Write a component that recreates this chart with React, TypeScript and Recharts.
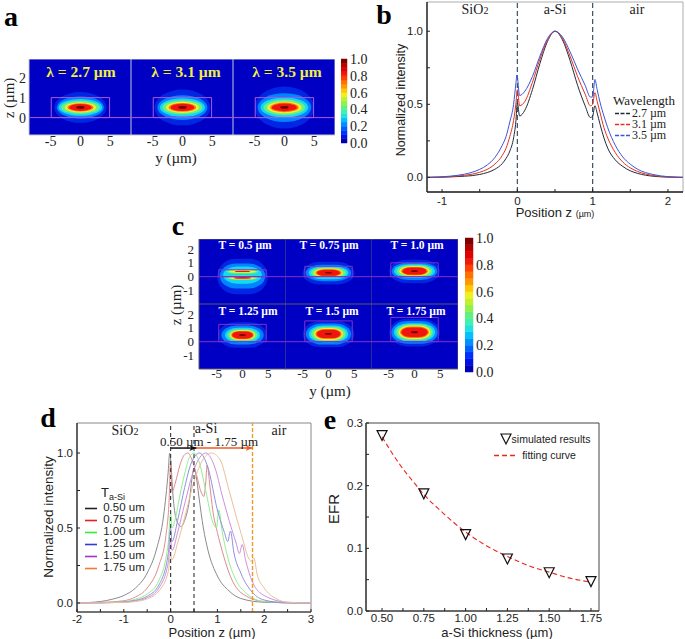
import type { ReactNode } from 'react';
import { ComposedChart, Line, ReferenceArea, ReferenceLine, Scatter, XAxis, YAxis } from 'recharts';

const SERIF = '"Liberation Serif", serif';
const SANS = '"Liberation Sans", sans-serif';

// heat map levels, outer glow to core
const levelColors = ['#0026e4', '#0084ff', '#18d8f0', '#68f080', '#f0f030', '#ff7a10', '#f01810', '#700000'];
const heatBackground = '#0000c4';

// contour = [level, z centre, half width in y, half height in z]
type Contour = number[];
const a27: Contour[] = [[0, 0.51, 4.4, 0.77], [1, 0.51, 3.95, 0.55], [2, 0.51, 3.67, 0.42], [3, 0.51, 3.25, 0.33], [4, 0.51, 2.63, 0.26], [5, 0.51, 2.2, 0.21], [6, 0.51, 1.9, 0.175], [7, 0.51, 0.7, 0.07]];
const a31: Contour[] = [[0, 0.5, 4.7, 0.9], [1, 0.5, 4.2, 0.62], [2, 0.51, 3.8, 0.46], [3, 0.51, 3.35, 0.36], [4, 0.51, 2.75, 0.28], [5, 0.51, 2.3, 0.22], [6, 0.51, 2, 0.18], [7, 0.51, 0.7, 0.07]];
const a35: Contour[] = [[0, 0.5, 5, 1.05], [1, 1.07, 3, 0.05], [1, 0.5, 4.5, 0.72], [2, 0.51, 4, 0.5], [3, 0.51, 3.5, 0.39], [4, 0.51, 2.9, 0.3], [5, 0.51, 2.4, 0.24], [6, 0.51, 2.1, 0.19], [7, 0.51, 0.7, 0.07]];

const t050: Contour[] = [[0, 0.02, 4.9, 1.28], [1, 0.05, 4.4, 0.9], [2, 0.12, 3.75, 0.62], [3, 0.37, 3.1, 0.16], [3, -0.08, 3.1, 0.16], [4, 0.38, 2.6, 0.1], [4, -0.09, 2.6, 0.1], [6, 0.38, 1.5, 0.05], [6, -0.09, 1.7, 0.06]];
const t075: Contour[] = [[0, 0.25, 5.05, 0.82], [1, 0.27, 4.4, 0.6], [2, 0.28, 3.85, 0.47], [3, 0.28, 3.4, 0.38], [4, 0.28, 2.85, 0.31], [5, 0.28, 2.55, 0.26], [6, 0.28, 2.25, 0.22], [7, 0.28, 0.7, 0.05]];
const t100: Contour[] = [[0, 0.38, 4.9, 0.85], [1, 0.4, 4.4, 0.63], [2, 0.4, 3.95, 0.5], [3, 0.4, 3.45, 0.42], [4, 0.4, 2.95, 0.35], [5, 0.4, 2.6, 0.3], [6, 0.4, 2.3, 0.26], [7, 0.4, 0.7, 0.06]];
const t125: Contour[] = [[0, 0.48, 4.7, 0.92], [1, 0.48, 4.1, 0.68], [2, 0.48, 3.4, 0.52], [3, 0.48, 2.95, 0.42], [4, 0.48, 2.45, 0.34], [5, 0.48, 2.2, 0.3], [6, 0.48, 2, 0.26], [7, 0.48, 0.7, 0.06]];
const t150: Contour[] = [[0, 0.55, 5, 0.95], [1, 0.55, 4.4, 0.76], [2, 0.56, 3.8, 0.6], [3, 0.56, 3.35, 0.52], [4, 0.56, 2.85, 0.43], [5, 0.56, 2.55, 0.36], [6, 0.56, 2.3, 0.3], [7, 0.56, 0.7, 0.06]];
const t175: Contour[] = [[0, 0.66, 4.9, 1], [1, 0.67, 4.5, 0.82], [2, 0.68, 4, 0.66], [3, 0.68, 3.55, 0.57], [4, 0.68, 3.1, 0.48], [5, 0.68, 2.8, 0.41], [6, 0.68, 2.55, 0.35], [7, 0.68, 0.7, 0.07]];

// colour bar bands, bottom to top
const barBands = ['#0000b0', '#0010e0', '#0030ff', '#0060ff', '#0090ff', '#00c0ff', '#20e0e0', '#40f0b0', '#60f080', '#90f050', '#c0f030', '#f0f020', '#ffc800', '#ff9800', '#ff7000', '#ff4000', '#f01808', '#e00000', '#b80000', '#800000'];
const barTicks = [0, 0.2, 0.4, 0.6, 0.8, 1];

// panel b, position z vs intensity
const b27 = [[-1.2, 0], [-0.9, 0.003], [-0.7, 0.008], [-0.6, 0.012], [-0.5, 0.02], [-0.4, 0.033], [-0.3, 0.055], [-0.2, 0.095], [-0.15, 0.13], [-0.1, 0.18], [-0.05, 0.27], [-0.02, 0.38], [0, 0.51], [0.03, 0.42], [0.1, 0.46], [0.2, 0.6], [0.3, 0.78], [0.4, 0.93], [0.5, 1], [0.6, 0.94], [0.7, 0.8], [0.8, 0.63], [0.9, 0.49], [0.97, 0.41], [1, 0.42], [1.03, 0.49], [1.06, 0.44], [1.1, 0.36], [1.15, 0.27], [1.2, 0.2], [1.3, 0.12], [1.4, 0.075], [1.5, 0.045], [1.6, 0.027], [1.8, 0.008], [2, 0.002], [2.2, 0]];
const b31 = [[-1.2, 0], [-0.9, 0.005], [-0.7, 0.014], [-0.6, 0.022], [-0.5, 0.035], [-0.4, 0.055], [-0.3, 0.09], [-0.2, 0.15], [-0.15, 0.2], [-0.1, 0.28], [-0.05, 0.39], [-0.02, 0.5], [0, 0.6], [0.03, 0.49], [0.1, 0.52], [0.2, 0.65], [0.3, 0.81], [0.4, 0.94], [0.5, 1], [0.6, 0.95], [0.7, 0.83], [0.8, 0.69], [0.9, 0.57], [0.97, 0.49], [1, 0.5], [1.03, 0.58], [1.06, 0.52], [1.1, 0.44], [1.15, 0.34], [1.2, 0.27], [1.3, 0.17], [1.4, 0.105], [1.5, 0.065], [1.6, 0.04], [1.8, 0.013], [2, 0.003], [2.2, 0]];
const b35 = [[-1.2, 0], [-0.9, 0.008], [-0.7, 0.022], [-0.6, 0.035], [-0.5, 0.055], [-0.4, 0.085], [-0.3, 0.135], [-0.2, 0.22], [-0.15, 0.28], [-0.1, 0.38], [-0.05, 0.5], [-0.02, 0.64], [-0.005, 0.7], [0.03, 0.56], [0.1, 0.59], [0.2, 0.69], [0.3, 0.83], [0.4, 0.95], [0.5, 1], [0.6, 0.96], [0.7, 0.86], [0.8, 0.74], [0.9, 0.63], [0.97, 0.55], [1, 0.55], [1.03, 0.67], [1.06, 0.6], [1.1, 0.51], [1.15, 0.42], [1.2, 0.34], [1.3, 0.22], [1.4, 0.14], [1.5, 0.09], [1.6, 0.055], [1.8, 0.02], [2, 0.005], [2.2, 0]];
const bColors = ['#222a3a', '#e8301c', '#3a55d8'];
const bLabels = ['2.7 µm', '3.1 µm', '3.5 µm'];
const bLegendRows = [113, 124, 135];

// panel d
const d050 = [[-2, 0], [-1.5, 0.01], [-1.25, 0.025], [-1, 0.05], [-0.75, 0.1], [-0.5, 0.2], [-0.3, 0.36], [-0.15, 0.58], [-0.05, 0.88], [-0.02, 1], [0, 0.96], [0.05, 0.72], [0.12, 0.56], [0.22, 0.51], [0.3, 0.55], [0.4, 0.68], [0.47, 0.86], [0.5, 0.9], [0.55, 0.84], [0.6, 0.72], [0.7, 0.5], [0.8, 0.35], [1, 0.18], [1.25, 0.08], [1.5, 0.03], [2, 0.005], [3, 0]];
const d075 = [[-2, 0], [-1.5, 0.004], [-1, 0.015], [-0.75, 0.04], [-0.5, 0.1], [-0.25, 0.25], [-0.1, 0.45], [-0.03, 0.7], [0, 0.95], [0.03, 0.74], [0.1, 0.8], [0.2, 0.92], [0.3, 0.99], [0.37, 1], [0.45, 0.96], [0.55, 0.86], [0.65, 0.74], [0.71, 0.71], [0.75, 0.8], [0.78, 0.92], [0.84, 0.78], [0.9, 0.62], [1, 0.47], [1.1, 0.35], [1.25, 0.2], [1.5, 0.07], [2, 0.01], [3, 0]];
const d100 = [[-2, 0], [-1.5, 0.002], [-1, 0.01], [-0.75, 0.025], [-0.5, 0.06], [-0.25, 0.15], [-0.05, 0.4], [0, 0.6], [0.03, 0.5], [0.1, 0.56], [0.2, 0.72], [0.3, 0.86], [0.4, 0.97], [0.5, 1], [0.6, 0.95], [0.75, 0.75], [0.9, 0.54], [0.98, 0.5], [1.03, 0.62], [1.1, 0.48], [1.2, 0.33], [1.4, 0.15], [1.6, 0.07], [2, 0.01], [3, 0]];
const d125 = [[-2, 0], [-1.5, 0.001], [-1, 0.007], [-0.75, 0.018], [-0.5, 0.045], [-0.25, 0.12], [-0.05, 0.33], [0, 0.5], [0.03, 0.41], [0.15, 0.55], [0.3, 0.77], [0.45, 0.94], [0.62, 1], [0.8, 0.9], [1, 0.62], [1.15, 0.47], [1.22, 0.41], [1.28, 0.48], [1.35, 0.34], [1.5, 0.2], [1.75, 0.07], [2, 0.02], [2.5, 0], [3, 0]];
const d150 = [[-2, 0], [-1, 0.005], [-0.75, 0.014], [-0.5, 0.035], [-0.25, 0.1], [-0.05, 0.27], [0, 0.42], [0.03, 0.35], [0.15, 0.47], [0.3, 0.66], [0.5, 0.89], [0.75, 1], [0.95, 0.9], [1.1, 0.72], [1.25, 0.55], [1.4, 0.4], [1.47, 0.33], [1.53, 0.39], [1.6, 0.29], [1.75, 0.14], [2, 0.05], [2.5, 0.005], [3, 0]];
const d175 = [[-2, 0], [-1, 0.004], [-0.75, 0.01], [-0.5, 0.028], [-0.25, 0.08], [-0.05, 0.21], [0, 0.32], [0.03, 0.29], [0.15, 0.4], [0.3, 0.57], [0.5, 0.81], [0.7, 0.96], [0.87, 1], [1.05, 0.96], [1.25, 0.75], [1.5, 0.47], [1.72, 0.28], [1.78, 0.3], [1.85, 0.19], [2, 0.1], [2.25, 0.03], [2.5, 0.005], [3, 0]];
const dColors = ['#222222', '#e82020', '#30f030', '#3838d8', '#a830c8', '#f07838'];
const dCurveColors = ['#8a8a8a', '#e08a90', '#90f090', '#8e92dc', '#cf90dc', '#e8c09a'];
const dLabels = ['0.50 um', '0.75 um', '1.00 um', '1.25 um', '1.50 um', '1.75 um'];

// panel e
const eThickness = [0.5, 0.75, 1, 1.25, 1.5, 1.75];
const eSimulated = [0.28, 0.187, 0.122, 0.083, 0.061, 0.047];
const eFit = [[0.5, 0.278], [0.6, 0.236], [0.7, 0.202], [0.75, 0.186], [0.85, 0.16], [1, 0.126], [1.1, 0.108], [1.25, 0.087], [1.4, 0.07], [1.5, 0.062], [1.6, 0.054], [1.75, 0.046]];

const pts = (rows: number[][]) => rows.map(([x, y]) => ({ x, y }));

function Note({ x, y, size = 12, font = SANS, color = '#222', bold, rotate, children }: { x: number; y: number; size?: number; font?: string; color?: string; bold?: boolean; rotate?: number; children: ReactNode }) {
  return (
    <div
      style={{
        position: 'absolute',
        left: x,
        top: y,
        transform: `translate(-50%, -50%)${rotate ? ` rotate(${rotate}deg)` : ''}`,
        fontFamily: font,
        fontSize: size,
        fontWeight: bold ? 700 : 400,
        color,
        whiteSpace: 'nowrap',
        lineHeight: 1,
      }}
    >
      {children}
    </div>
  );
}

function Place({ left, top, children }: { left: number; top: number; children: ReactNode }) {
  return <div style={{ position: 'absolute', left, top }}>{children}</div>;
}

function Sample({ left, top, width, color, dash }: { left: number; top: number; width: number; color: string; dash?: string }) {
  return (
    <svg width={width} height={3} style={{ position: 'absolute', left, top: top - 1.5 }}>
      <line x1={0} y1={1.5} x2={width} y2={1.5} stroke={color} strokeWidth={1.6} strokeDasharray={dash} />
    </svg>
  );
}

interface HeatProps {
  left: number;
  top: number;
  w: number;
  h: number;
  xDomain: number[];
  zDomain: number[];
  contours: Contour[];
  thickness: number;
  halfWidth: number;
  boxColor: string;
  round: number;
  border: string;
  showX?: boolean;
  yTicks?: number[];
  fontSize: number;
  yGap: number;
  xGap: number;
}

// one mode profile: stacked blurred contours inside the waveguide outline
function HeatPanel({ left, top, w, h, xDomain, zDomain, contours, thickness, halfWidth, boxColor, round, border, showX, yTicks, fontSize, yGap, xGap }: HeatProps) {
  const axisW = yTicks ? 30 : 0;
  const axisH = showX ? 24 : 0;
  const tick = { fill: '#222', fontSize, fontFamily: SERIF };
  return (
    <Place left={left - axisW} top={top}>
      <ComposedChart width={w + axisW} height={h + axisH} margin={{ top: 0, right: 0, bottom: 0, left: 0 }}>
        <XAxis type="number" dataKey="x" domain={xDomain} ticks={[-5, 0, 5]} interval={0} hide={!showX} height={axisH} tick={tick} tickLine={false} tickSize={0} axisLine={false} tickMargin={xGap} allowDataOverflow />
        <YAxis type="number" domain={zDomain} ticks={yTicks ?? []} interval={0} hide={!yTicks} width={axisW} tick={tick} tickLine={false} tickSize={0} axisLine={false} tickMargin={yGap} allowDataOverflow />
        <ReferenceArea x1={xDomain[0]} x2={xDomain[1]} y1={zDomain[0]} y2={zDomain[1]} fill={heatBackground} fillOpacity={1} stroke={border} strokeWidth={1} />
        {contours.map(([level, z, hw, hh], i) => (
          <ReferenceArea
            key={i}
            x1={-hw}
            x2={hw}
            y1={z - hh}
            y2={z + hh}
            shape={(p: any) => (
              <rect x={p.x} y={p.y} width={p.width} height={p.height} rx={(p.width / 2) * round} ry={p.height / 2} fill={levelColors[level]} filter="url(#soft)" />
            )}
          />
        ))}
        <ReferenceArea x1={-halfWidth} x2={halfWidth} y1={0} y2={thickness} fill="none" stroke={boxColor} strokeWidth={1} />
        <ReferenceLine y={0} stroke={boxColor} strokeWidth={1} />
      </ComposedChart>
    </Place>
  );
}

// bar keeps 8px of room above and below so the end labels are not clipped
function ColorBar({ left, top, w, h, fontSize }: { left: number; top: number; w: number; h: number; fontSize: number }) {
  return (
    <Place left={left} top={top - 8}>
      <ComposedChart width={w + 30} height={h + 16} margin={{ top: 8, right: 0, bottom: 8, left: 0 }}>
        <XAxis type="number" dataKey="x" domain={[0, 1]} hide allowDataOverflow />
        <YAxis
          type="number"
          orientation="right"
          domain={[0, 1]}
          ticks={barTicks}
          interval={0}
          width={30}
          tickFormatter={(v: number) => v.toFixed(1)}
          tick={{ fill: '#222', fontSize, fontFamily: SERIF }}
          tickLine={false}
          tickSize={0}
          axisLine={false}
          tickMargin={3}
          allowDataOverflow
        />
        {barBands.map((c, i) => (
          <ReferenceArea key={i} x1={0} x2={1} y1={i / barBands.length} y2={(i + 1) / barBands.length} fill={c} fillOpacity={1} stroke={c} strokeWidth={0.5} />
        ))}
      </ComposedChart>
    </Place>
  );
}

const sio2 = (
  <>
    SiO<span style={{ fontSize: '0.72em' }}>2</span>
  </>
);

function Triangle(props: any) {
  const { cx, cy } = props;
  return <polygon points={`${cx - 5},${cy - 5} ${cx + 5},${cy - 5} ${cx},${cy + 5}`} fill="none" stroke="#111" strokeWidth={1.2} />;
}

export default function App() {
  const sansTick = { fill: '#222', fontSize: 11.5, fontFamily: SANS };
  const half = (v: number) => (Math.abs(v * 2) % 2 === 0 ? String(v) : '');
  const tenth = (v: number) => (Math.round(v * 100) % 50 === 0 ? v.toFixed(1) : '');
  const aX = [-8.64, 8.5];
  const aZ = [-0.87, 2.93];
  const cX = [-8.43, 8.43];
  const cZ = [-1.97, 2.72];
  const aProps = { w: 102, h: 76, xDomain: aX, zDomain: aZ, thickness: 1, halfWidth: 4.9, boxColor: '#a858e0', round: 1, border: '#c8c8d8', fontSize: 14, yGap: 3, xGap: 1 };
  const cProps = { w: 87, h: 65, xDomain: cX, zDomain: cZ, halfWidth: 4.6, boxColor: '#8030c8', round: 0.72, border: '#5a5a70', fontSize: 13, yGap: 5, xGap: 0 };

  return (
    <div style={{ position: 'absolute', left: 0, top: 0, width: 685, height: 639, background: '#fff', overflow: 'hidden' }}>
      <svg width={0} height={0} style={{ position: 'absolute' }}>
        <defs>
          <filter id="soft" x="-20%" y="-40%" width="140%" height="180%">
            <feGaussianBlur stdDeviation="0.75" />
          </filter>
          <marker id="arrowBlack" markerWidth="8" markerHeight="8" refX="7" refY="3" orient="auto" markerUnits="userSpaceOnUse">
            <path d="M0,0 L7,3 L0,6 L2,3 Z" fill="#111" />
          </marker>
          <marker id="arrowOrange" markerWidth="8" markerHeight="8" refX="7" refY="3" orient="auto" markerUnits="userSpaceOnUse">
            <path d="M0,0 L7,3 L0,6 L2,3 Z" fill="#ef5a22" />
          </marker>
        </defs>
      </svg>

      {/* panel a */}
      <HeatPanel left={29} top={59} contours={a27} showX yTicks={[0, 1, 2]} {...aProps} />
      <HeatPanel left={131} top={59} contours={a31} showX {...aProps} />
      <HeatPanel left={233} top={59} contours={a35} showX {...aProps} />
      <ColorBar left={341} top={59} w={6} h={84} fontSize={14} />
      <Note x={81} y={72} size={15.5} font={SERIF} bold color="#f0f040">λ = 2.7 µm</Note>
      <Note x={186} y={72} size={15.5} font={SERIF} bold color="#f0f040">λ = 3.1 µm</Note>
      <Note x={287} y={72} size={15.5} font={SERIF} bold color="#f0f040">λ = 3.5 µm</Note>
      <Note x={176} y={158} size={15} font={SERIF}>y (µm)</Note>
      <Note x={9} y={98} size={15} font={SERIF} rotate={-90}>z (µm)</Note>

      {/* panel b */}
      <Place left={380} top={0}>
        <ComposedChart width={305} height={215} margin={{ top: 2, right: 2, bottom: 0, left: 0 }}>
          <XAxis type="number" dataKey="x" domain={[-1.2, 2.2]} ticks={[-1, -0.5, 0, 0.5, 1, 1.5, 2]} interval={0} height={23} tickFormatter={half} tick={sansTick} tickSize={-3} tickMargin={8} tickLine={{ stroke: '#222' }} axisLine={{ stroke: '#222', strokeWidth: 1.4 }} allowDataOverflow />
          <YAxis type="number" domain={[-0.1, 1.2]} ticks={[0, 0.25, 0.5, 0.75, 1]} interval={0} width={47} tickFormatter={tenth} tick={sansTick} tickSize={-3} tickMargin={7} tickLine={{ stroke: '#222' }} axisLine={{ stroke: '#222', strokeWidth: 1.4 }} allowDataOverflow />
          <ReferenceArea x1={-1.2} x2={2.2} y1={-0.1} y2={1.2} fill="none" stroke="#999" strokeWidth={0.8} />
          <ReferenceLine x={0} stroke="#3d4f60" strokeWidth={1.2} strokeDasharray="5 3" />
          <ReferenceLine x={1} stroke="#3d4f60" strokeWidth={1.2} strokeDasharray="5 3" />
          <Line data={pts(b27)} dataKey="y" name={bLabels[0]} type="monotone" stroke={bColors[0]} strokeWidth={1} dot={false} isAnimationActive={false} />
          <Line data={pts(b31)} dataKey="y" name={bLabels[1]} type="monotone" stroke={bColors[1]} strokeWidth={1} dot={false} isAnimationActive={false} />
          <Line data={pts(b35)} dataKey="y" name={bLabels[2]} type="monotone" stroke={bColors[2]} strokeWidth={1} dot={false} isAnimationActive={false} />
        </ComposedChart>
      </Place>
      <Note x={475} y={10} size={14} font={SERIF}>{sio2}</Note>
      <Note x={555} y={10} size={14} font={SERIF}>a-Si</Note>
      <Note x={637} y={10} size={14} font={SERIF}>air</Note>
      <Note x={644} y={100} size={13} font={SERIF}>Wavelength</Note>
      {bLabels.map((label, i) => (
        <div key={label}>
          <Sample left={615} top={bLegendRows[i]} width={15} color={bColors[i]} dash="4 1.5" />
          <Note x={649} y={bLegendRows[i]} size={12} font={SERIF}>{label}</Note>
        </div>
      ))}
      <Note x={401} y={100} size={12.5} rotate={-90}>Normalized intensity</Note>
      <Note x={555} y={212} size={13}>
        Position z <span style={{ fontSize: 9 }}>(µm)</span>
      </Note>

      {/* panel c */}
      <HeatPanel left={199} top={239} contours={t050} thickness={0.5} yTicks={[-1, 0, 1, 2]} {...cProps} />
      <HeatPanel left={285} top={239} contours={t075} thickness={0.75} {...cProps} />
      <HeatPanel left={371} top={239} contours={t100} thickness={1} {...cProps} />
      <HeatPanel left={199} top={304} contours={t125} thickness={1.25} showX yTicks={[-1, 0, 1, 2]} {...cProps} />
      <HeatPanel left={285} top={304} contours={t150} thickness={1.5} showX {...cProps} />
      <HeatPanel left={371} top={304} contours={t175} thickness={1.75} showX {...cProps} />
      <ColorBar left={465} top={238} w={8} h={134} fontSize={14} />
      <Note x={245} y={246} size={11.5} font={SERIF} bold color="#fff">T = 0.5 µm</Note>
      <Note x={329} y={246} size={11.5} font={SERIF} bold color="#fff">T = 0.75 µm</Note>
      <Note x={417} y={246} size={11.5} font={SERIF} bold color="#fff">T = 1.0 µm</Note>
      <Note x={248} y={312} size={11.5} font={SERIF} bold color="#fff">T = 1.25 µm</Note>
      <Note x={332} y={312} size={11.5} font={SERIF} bold color="#fff">T = 1.5 µm</Note>
      <Note x={416} y={312} size={11.5} font={SERIF} bold color="#fff">T = 1.75 µm</Note>
      <Note x={330} y={391} size={15} font={SERIF}>y (µm)</Note>
      <Note x={176} y={305} size={15} font={SERIF} rotate={-90}>z (µm)</Note>

      {/* panel d */}
      <Place left={30} top={415}>
        <ComposedChart width={290} height={220} margin={{ top: 8, right: 9, bottom: 0, left: 0 }}>
          <XAxis type="number" dataKey="x" domain={[-2, 3]} ticks={[-2, -1.5, -1, -0.5, 0, 0.5, 1, 1.5, 2, 2.5, 3]} interval={0} height={23} tickFormatter={half} tick={sansTick} tickSize={-3} tickMargin={6} tickLine={{ stroke: '#222' }} axisLine={{ stroke: '#222', strokeWidth: 1.2 }} allowDataOverflow />
          <YAxis type="number" domain={[-0.06, 1.2]} ticks={[0, 0.25, 0.5, 0.75, 1]} interval={0} width={47} tickFormatter={tenth} tick={sansTick} tickSize={-3} tickMargin={7} tickLine={{ stroke: '#222' }} axisLine={{ stroke: '#222', strokeWidth: 1.2 }} allowDataOverflow />
          <ReferenceArea x1={-2} x2={3} y1={-0.06} y2={1.2} fill="none" stroke="#888" strokeWidth={1} />
          {[d050, d075, d100, d125, d150, d175].map((curve, i) => (
            <Line key={i} data={pts(curve)} dataKey="y" name={dLabels[i]} type="monotone" stroke={dCurveColors[i]} strokeWidth={1} dot={false} isAnimationActive={false} />
          ))}
          <ReferenceLine x={0} stroke="#444" strokeWidth={1.2} strokeDasharray="4 3" />
          <ReferenceLine x={0.5} stroke="#444" strokeWidth={1.2} strokeDasharray="4 3" />
          <ReferenceLine x={1.75} stroke="#f09a28" strokeWidth={1.4} strokeDasharray="4 2" />
          <ReferenceLine segment={[{ x: 0.5, y: 1.033 }, { x: 1.75, y: 1.033 }]} stroke="#ef5a22" strokeWidth={1.5} markerEnd="url(#arrowOrange)" />
          <ReferenceLine segment={[{ x: 0, y: 1.033 }, { x: 0.55, y: 1.033 }]} stroke="#111" strokeWidth={1.5} markerEnd="url(#arrowBlack)" />
        </ComposedChart>
      </Place>
      <Note x={125} y={431} size={14} font={SERIF}>{sio2}</Note>
      <Note x={206} y={429} size={14} font={SERIF}>a-Si</Note>
      <Note x={279} y={431} size={14} font={SERIF}>air</Note>
      <Note x={209} y={441} size={13} font={SERIF}>0.50 µm - 1.75 µm</Note>
      <Note x={113} y={492} size={13}>
        T<span style={{ fontSize: 9, position: 'relative', top: 3 }}>a-Si</span>
      </Note>
      {dLabels.map((label, i) => (
        <div key={label}>
          <Sample left={85} top={508 + i * 12} width={12} color={dColors[i]} />
          <Note x={124} y={508 + i * 12} size={11.5}>{label}</Note>
        </div>
      ))}
      <Note x={49} y={517} size={13.5} rotate={-90}>Normalized intensity</Note>
      <Note x={212} y={632} size={13}>Position z (µm)</Note>

      {/* panel e */}
      <Place left={330} top={415}>
        <ComposedChart width={280} height={220} margin={{ top: 8, right: 11, bottom: 0, left: 0 }}>
          <XAxis type="number" dataKey="x" domain={[0.404, 1.798]} ticks={[0.5, 0.625, 0.75, 0.875, 1, 1.125, 1.25, 1.375, 1.5, 1.625, 1.75]} interval={0} height={24} tickFormatter={(v: number) => (v * 4 === Math.round(v * 4) ? v.toFixed(2) : '')} tick={sansTick} tickSize={-3} tickMargin={6} tickLine={{ stroke: '#222' }} axisLine={{ stroke: '#333', strokeWidth: 1.2 }} allowDataOverflow />
          <YAxis type="number" domain={[0, 0.3]} ticks={[0, 0.05, 0.1, 0.15, 0.2, 0.25, 0.3]} interval={0} width={36} tickFormatter={(v: number) => (Math.round(v * 100) % 10 === 0 ? v.toFixed(1) : '')} tick={sansTick} tickSize={-3} tickMargin={6} tickLine={{ stroke: '#222' }} axisLine={{ stroke: '#333', strokeWidth: 1.2 }} allowDataOverflow />
          <YAxis yAxisId="right" orientation="right" type="number" domain={[0, 0.3]} ticks={[0, 0.05, 0.1, 0.15, 0.2, 0.25, 0.3]} interval={0} width={0} tickFormatter={() => ''} tickSize={-3} tickMargin={0} tickLine={{ stroke: '#222' }} axisLine={{ stroke: '#444' }} allowDataOverflow />
          <ReferenceArea x1={0.404} x2={1.798} y1={0} y2={0.3} fill="none" stroke="#444" strokeWidth={1} />
          <Line data={pts(eFit)} dataKey="y" name="fitting curve" stroke="#e8281c" strokeWidth={1.1} strokeDasharray="5 3" dot={false} type="monotone" isAnimationActive={false} />
          <Scatter data={eThickness.map((x, i) => ({ x, y: eSimulated[i] }))} dataKey="y" name="simulated results" shape={Triangle} isAnimationActive={false} />
        </ComposedChart>
      </Place>
      <svg width={14} height={14} style={{ position: 'absolute', left: 499, top: 432 }}>
        <polygon points="2,2 12,2 7,12" fill="none" stroke="#111" strokeWidth={1.2} />
      </svg>
      <Note x={551} y={439} size={10.5}>simulated results</Note>
      <Sample left={494} top={455} width={24} color="#e8281c" dash="5 3" />
      <Note x={549} y={455} size={10.5}>fitting curve</Note>
      <Note x={333} y={509} size={15} rotate={-90}>EFR</Note>
      <Note x={497} y={632} size={13}>a-Si thickness (µm)</Note>

      {/* panel letters */}
      <Note x={11} y={17} size={28} font={SERIF} bold color="#000">a</Note>
      <Note x={384} y={15} size={28} font={SERIF} bold color="#000">b</Note>
      <Note x={178} y={226} size={28} font={SERIF} bold color="#000">c</Note>
      <Note x={48} y={418} size={28} font={SERIF} bold color="#000">d</Note>
      <Note x={330} y={420} size={28} font={SERIF} bold color="#000">e</Note>
    </div>
  );
}
